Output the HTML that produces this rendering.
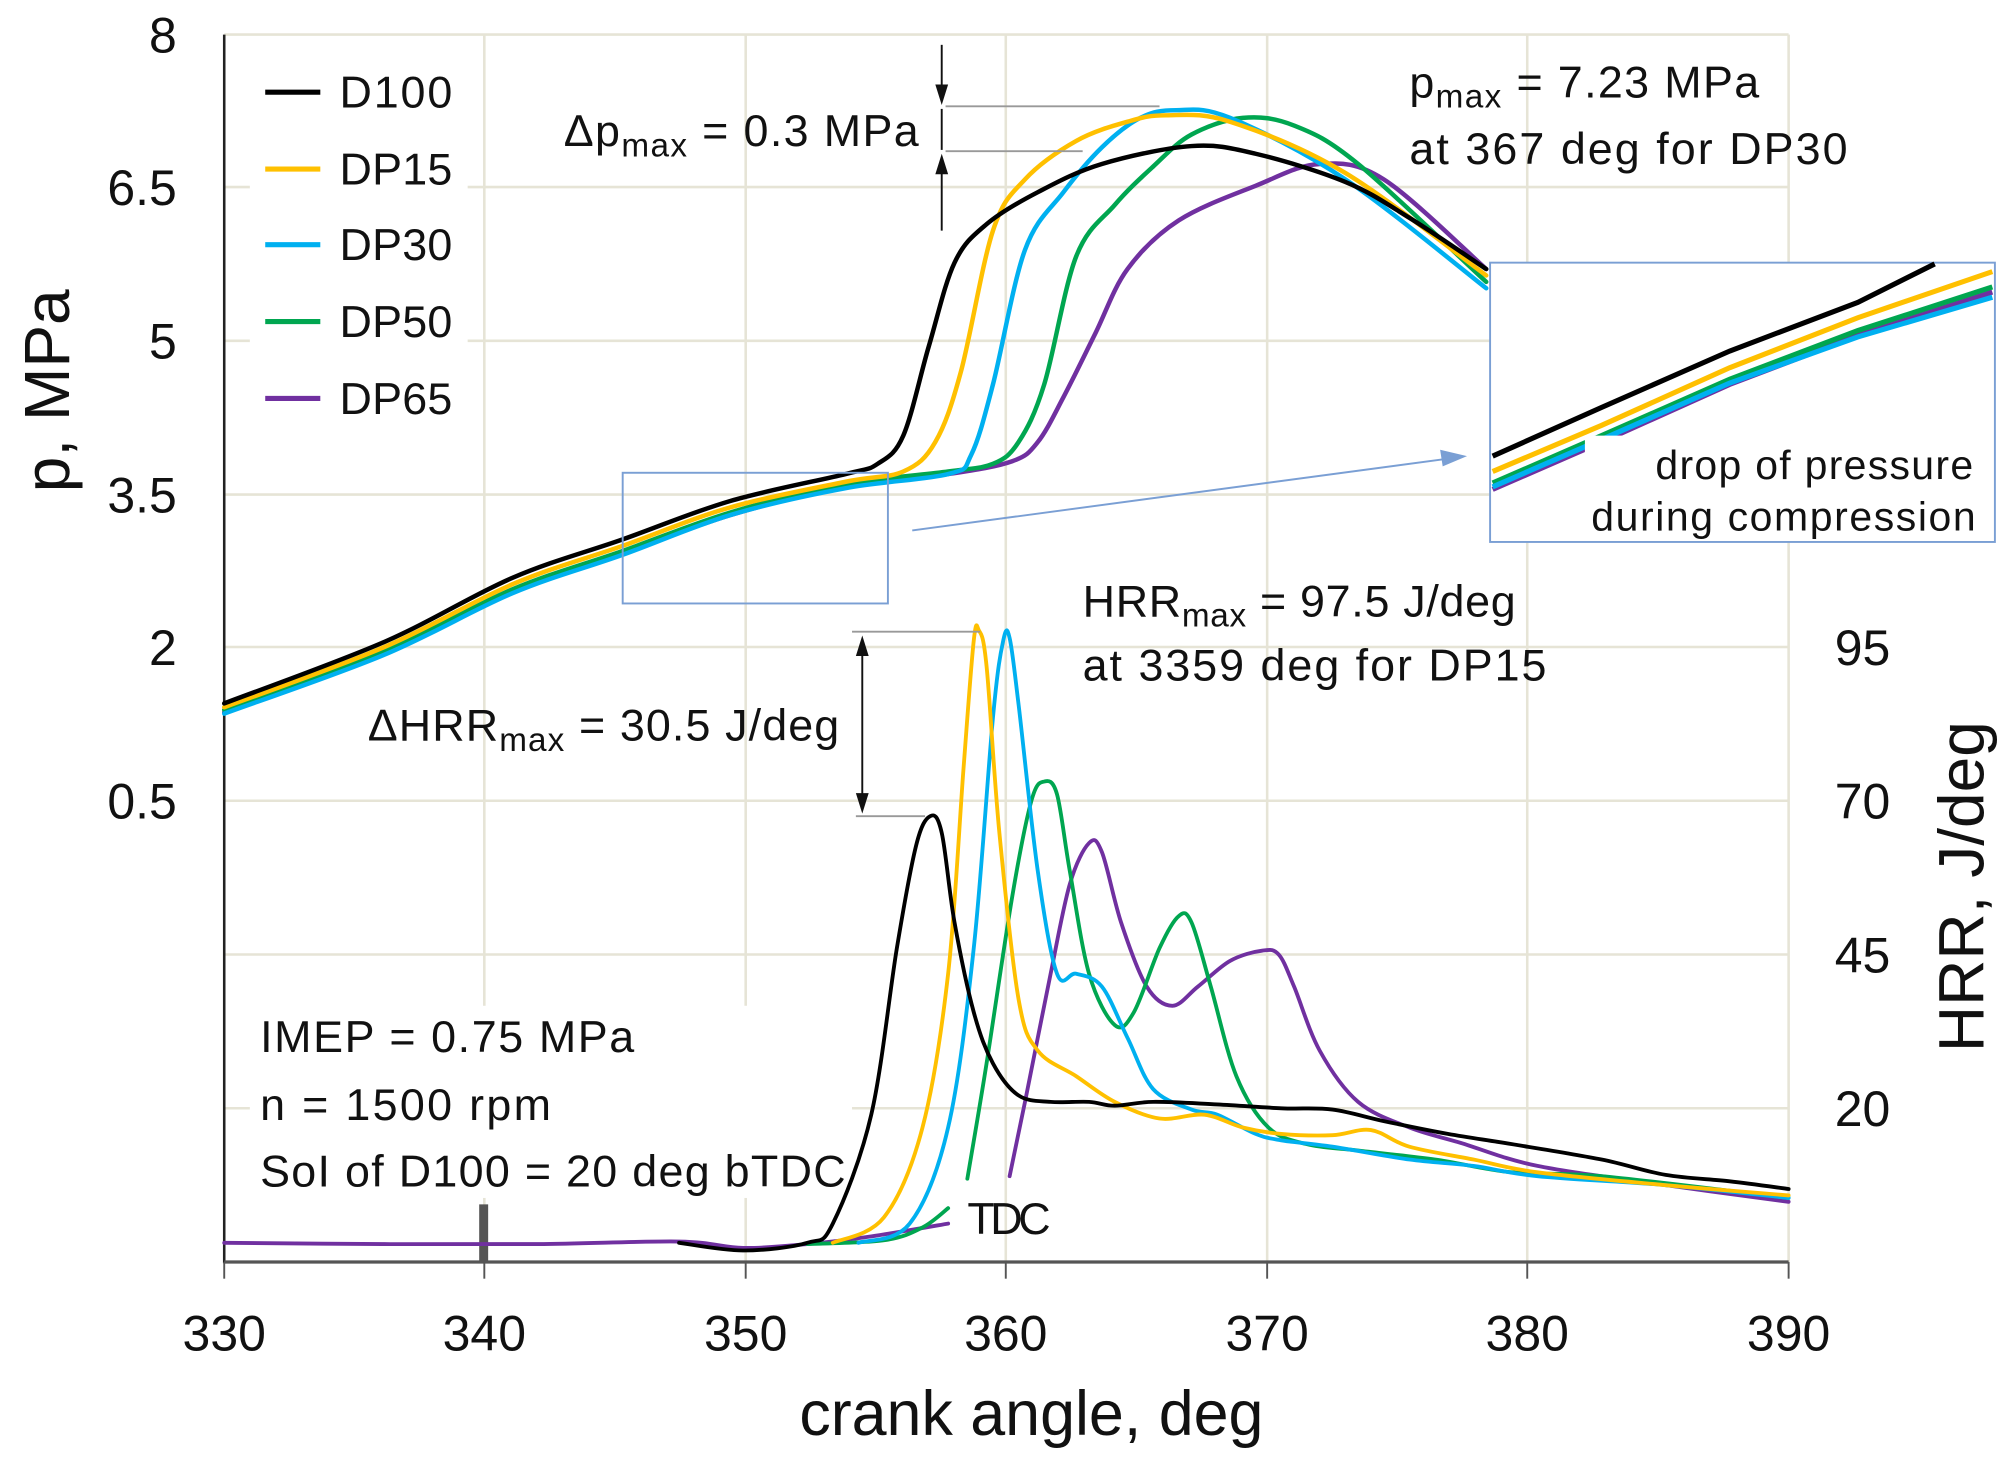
<!DOCTYPE html>
<html><head><meta charset="utf-8"><style>html,body{margin:0;padding:0;background:#fff}svg{display:block}</style></head>
<body>
<svg id="s" width="2009" height="1461" viewBox="0 0 1568 1140.3" xmlns="http://www.w3.org/2000/svg" font-family="Liberation Sans, sans-serif">
<rect width="1568" height="1141" fill="#fff"/>
<g stroke="#e6e4d6" stroke-width="2">
<line x1="175" y1="27" x2="1396" y2="27"/>
<line x1="175" y1="146" x2="1396" y2="146"/>
<line x1="175" y1="266" x2="1396" y2="266"/>
<line x1="175" y1="386" x2="1396" y2="386"/>
<line x1="175" y1="505" x2="1396" y2="505"/>
<line x1="175" y1="625" x2="1396" y2="625"/>
<line x1="175" y1="745" x2="1396" y2="745"/>
<line x1="175" y1="865" x2="1396" y2="865"/>
<line x1="378" y1="27" x2="378" y2="985"/>
<line x1="582" y1="27" x2="582" y2="985"/>
<line x1="785" y1="27" x2="785" y2="985"/>
<line x1="989" y1="27" x2="989" y2="985"/>
<line x1="1192" y1="27" x2="1192" y2="985"/>
<line x1="1396" y1="27" x2="1396" y2="985"/>
</g>
<rect x="195" y="45" width="170" height="290" fill="#fff"/>
<rect x="195" y="785" width="470" height="150" fill="#fff"/>
<line x1="175" y1="27" x2="175" y2="986" stroke="#222" stroke-width="2"/>
<line x1="175" y1="985" x2="1396" y2="985" stroke="#555" stroke-width="2.5"/>
<g stroke="#555" stroke-width="1.5">
<line x1="175" y1="985" x2="175" y2="998"/><line x1="378" y1="985" x2="378" y2="998"/><line x1="582" y1="985" x2="582" y2="998"/><line x1="785" y1="985" x2="785" y2="998"/><line x1="989" y1="985" x2="989" y2="998"/><line x1="1192" y1="985" x2="1192" y2="998"/><line x1="1396" y1="985" x2="1396" y2="998"/>
</g>
<rect x="374" y="940" width="7" height="45" fill="#555"/>
<g font-size="39" fill="#111" text-anchor="end">
<text x="138" y="41">8</text><text x="138" y="160">6.5</text><text x="138" y="280">5</text><text x="138" y="400">3.5</text><text x="138" y="519">2</text><text x="138" y="639">0.5</text>
</g>
<g font-size="39" fill="#111">
<text x="1432" y="519">95</text><text x="1432" y="639">70</text><text x="1432" y="759">45</text><text x="1432" y="879">20</text>
</g>
<g font-size="39" fill="#111" text-anchor="middle">
<text x="175" y="1054">330</text><text x="378" y="1054">340</text><text x="582" y="1054">350</text><text x="785" y="1054">360</text><text x="989" y="1054">370</text><text x="1192" y="1054">380</text><text x="1396" y="1054">390</text>
</g>
<text x="805" y="1120" font-size="49" text-anchor="middle" fill="#111">crank angle, deg</text>
<text transform="translate(54,305) rotate(-90)" font-size="50" text-anchor="middle" fill="#111">p, MPa</text>
<text transform="translate(1548,692) rotate(-90)" font-size="50" text-anchor="middle" fill="#111">HRR, J/deg</text>
<g stroke-width="4">
<line x1="207" y1="72" x2="250" y2="72" stroke="#000"/>
<line x1="207" y1="132" x2="250" y2="132" stroke="#ffc000"/>
<line x1="207" y1="191" x2="250" y2="191" stroke="#00b0f0"/>
<line x1="207" y1="251" x2="250" y2="251" stroke="#00a650"/>
<line x1="207" y1="311" x2="250" y2="311" stroke="#7030a0"/>
</g>
<g font-size="35" fill="#111" lengthAdjust="spacingAndGlyphs">
<text x="265" y="84" textLength="88">D100</text><text x="265" y="144" textLength="88">DP15</text><text x="265" y="203" textLength="88">DP30</text><text x="265" y="263" textLength="88">DP50</text><text x="265" y="323" textLength="88">DP65</text>
</g>
<g id="curves" fill="none" stroke-linejoin="round" stroke-linecap="round">
<!-- pressure -->
<polyline class="sm" stroke-width="3.5" stroke="#7030a0" points="175,556 300,510 400,462 486,432 570,402 660,380 740,370 790,360 810,345 830,310 855,260 880,210 920,172 980,145 1030,128 1080,140 1160,210"/>
<polyline class="sm" stroke-width="3.5" stroke="#00a650" points="175,554 300,508 400,460 486,430 570,400 660,378 740,368 775,362 795,345 815,300 840,200 870,160 900,130 930,105 970,92 1010,98 1060,128 1160,220"/>
<polyline class="sm" stroke-width="3.5" stroke="#00b0f0" points="175,557 300,511 400,463 486,433 570,402 660,381 740,370 758,355 775,300 800,195 830,150 860,115 890,92 918,86 960,92 1050,140 1160,225"/>
<polyline class="sm" stroke-width="3.5" stroke="#ffc000" points="175,552 300,505 400,456 486,426 570,396 660,376 705,368 730,345 750,290 775,180 800,140 840,110 880,95 910,90 960,95 1050,135 1160,215"/>
<polyline class="sm" stroke-width="3.5" stroke="#000" points="175,549 300,501 400,451 486,421 570,391 660,370 685,362 705,340 725,270 745,205 770,175 810,150 860,128 930,114 980,120 1050,142 1100,170 1160,210"/>
<!-- HRR -->
<polyline class="sm" stroke-width="3" stroke="#7030a0" points="175,970 300,971 420,971 530,969 580,974 630,971 680,965 740,955"/>
<polyline class="sm" stroke-width="3" stroke="#7030a0" points="788,918 800,860 820,760 835,690 850,658 860,665 875,720 895,770 915,785 935,770 960,750 985,742 998,745 1010,770 1030,820 1060,860 1100,880 1140,892 1200,910 1300,925 1396,938"/>
<polyline class="sm" stroke-width="3" stroke="#00a650" points="630,971 690,968 720,958 740,943"/>
<polyline class="sm" stroke-width="3" stroke="#00a650" points="755,920 770,830 790,700 805,625 815,610 825,620 835,680 850,760 870,800 885,790 905,740 920,715 930,720 945,770 965,840 990,880 1020,893 1060,898 1120,905 1180,915 1250,918 1396,935"/>
<polyline class="sm" stroke-width="3" stroke="#00b0f0" points="670,970 710,955 740,880 760,740 775,560 783,500 788,498 795,550 810,680 825,760 840,760 860,770 880,810 900,850 930,866 950,870 980,885 1000,890 1040,895 1100,905 1150,910 1200,918 1300,925 1396,935"/>
<polyline class="sm" stroke-width="3" stroke="#ffc000" points="650,970 690,950 720,880 740,760 752,600 760,500 764,492 770,520 780,650 795,780 810,820 840,840 870,860 905,873 940,870 970,880 1000,885 1040,886 1070,882 1100,895 1150,905 1200,915 1300,925 1396,933"/>
<polyline class="sm" stroke-width="3" stroke="#000" points="530,970 580,976 630,970 650,955 680,870 700,740 715,660 726,637 735,650 745,720 760,790 775,830 795,855 820,860 850,860 870,863 900,860 950,862 1000,865 1040,866 1080,875 1130,885 1180,893 1250,905 1300,917 1350,922 1396,928"/>
</g>
<rect x="486" y="369" width="207" height="102" fill="none" stroke="#7a9fd4" stroke-width="1.5"/>
<line x1="712" y1="414" x2="1130" y2="358" stroke="#7a9fd4" stroke-width="1.5"/>
<polygon points="1145,356 1124,351 1126,364" fill="#7a9fd4"/>
<rect x="1163" y="205" width="394" height="218" fill="#fff" stroke="#7a9fd4" stroke-width="1.5"/>
<g fill="none" stroke-width="4">
<polyline stroke="#7030a0" points="1165,382 1250,345 1350,300 1450,262 1555,228"/>
<polyline stroke="#00a650" points="1165,377 1250,340 1350,296 1450,258 1555,224"/>
<polyline stroke="#00b0f0" points="1165,380 1250,343 1350,299 1450,263 1555,232"/>
<polyline stroke="#ffc000" points="1165,368 1250,332 1350,287 1450,248 1555,212"/>
<polyline stroke="#000" points="1165,356 1250,318 1350,274 1450,236 1510,206"/>
</g>
<rect x="1237" y="340" width="300" height="80" fill="#fff"/>
<g font-size="32" fill="#111" lengthAdjust="spacingAndGlyphs">
<text x="1292" y="374" textLength="248">drop of pressure</text><text x="1242" y="414" textLength="300">during compression</text>
</g>
<g stroke="#999" stroke-width="1.5">
<line x1="738" y1="83" x2="905" y2="83"/><line x1="738" y1="118" x2="845" y2="118"/>
</g>
<g stroke="#111" stroke-width="1.5">
<line x1="735" y1="35" x2="735" y2="70"/><line x1="735" y1="85" x2="735" y2="117"/><line x1="735" y1="132" x2="735" y2="180"/>
</g>
<polygon points="735,82 730,66 740,66" fill="#111"/><polygon points="735,120 730,136 740,136" fill="#111"/>
<g fill="#111" font-size="35" lengthAdjust="spacingAndGlyphs">
<text x="440" y="114" textLength="277">Δp<tspan font-size="26" dy="8">max</tspan><tspan dy="-8"> = 0.3 MPa</tspan></text>
<text x="1100" y="76" textLength="273">p<tspan font-size="26" dy="8">max</tspan><tspan dy="-8"> = 7.23 MPa</tspan></text>
<text x="1100" y="128" textLength="342">at 367 deg for DP30</text>
<text x="845" y="481" textLength="338">HRR<tspan font-size="26" dy="8">max</tspan><tspan dy="-8"> = 97.5 J/deg</tspan></text>
<text x="845" y="531" textLength="362">at 3359 deg for DP15</text>
<text x="287" y="578" textLength="368">ΔHRR<tspan font-size="26" dy="8">max</tspan><tspan dy="-8"> = 30.5 J/deg</tspan></text>
<text x="203" y="821" textLength="292">IMEP = 0.75 MPa</text>
<text x="203" y="874" textLength="227">n = 1500 rpm</text>
<text x="203" y="926" textLength="457">SoI of D100 = 20 deg bTDC</text>
<text x="755" y="963" textLength="65">TDC</text>
</g>
<g stroke="#999" stroke-width="1.5">
<line x1="665" y1="493" x2="765" y2="493"/><line x1="668" y1="637" x2="722" y2="637"/>
</g>
<line x1="673" y1="510" x2="673" y2="620" stroke="#111" stroke-width="1.5"/>
<polygon points="673,496 668,512 678,512" fill="#111"/><polygon points="673,635 668,619 678,619" fill="#111"/>
</svg>
<script>
document.querySelectorAll('polyline.sm').forEach(function(pl){
  var pts=pl.getAttribute('points').trim().split(/\s+/).map(function(s){return s.split(',').map(Number);});
  var d='M'+pts[0][0]+','+pts[0][1];
  for(var i=0;i<pts.length-1;i++){
    var p0=pts[i-1]||pts[i],p1=pts[i],p2=pts[i+1],p3=pts[i+2]||p2;
    var c1=[p1[0]+(p2[0]-p0[0])/6,p1[1]+(p2[1]-p0[1])/6];
    var c2=[p2[0]-(p3[0]-p1[0])/6,p2[1]-(p3[1]-p1[1])/6];
    d+=' C'+c1[0].toFixed(1)+','+c1[1].toFixed(1)+' '+c2[0].toFixed(1)+','+c2[1].toFixed(1)+' '+p2[0]+','+p2[1];
  }
  var p=document.createElementNS('http://www.w3.org/2000/svg','path');
  ['stroke','stroke-width'].forEach(function(a){p.setAttribute(a,pl.getAttribute(a));});
  p.setAttribute('d',d);
  pl.parentNode.replaceChild(p,pl);
});
</script>
</body></html>
